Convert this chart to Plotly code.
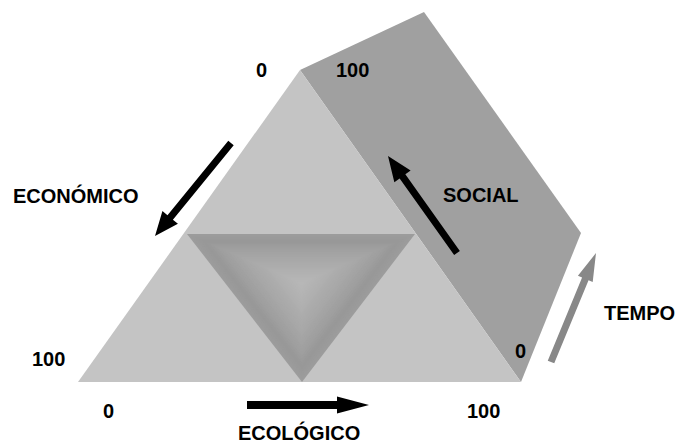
import math
import plotly.graph_objects as go

# ---- diagram geometry (pixel space of the reference, y downward) ----
outer_tri_x = [78, 300, 521]
outer_tri_y = [382, 70, 382]

side_face_x = [300, 424, 581, 521]
side_face_y = [70, 12, 233, 382]

inner_tri_x = [187, 415, 302]
inner_tri_y = [234, 234, 382]

# arrows: tail -> tip
arrow_names = ["economico", "social", "ecologico", "tempo"]
arrow_tail_x = [231, 457, 247, 551]
arrow_tail_y = [143, 253, 405, 362]
arrow_tip_x = [155, 388, 369, 596]
arrow_tip_y = [236, 156, 405, 253]
arrow_colors = ["#000000", "#000000", "#000000", "#888888"]

# labels
label_texts = ["0", "100", "ECONÓMICO", "SOCIAL", "TEMPO", "0", "100", "0", "100", "ECOLÓGICO"]
label_x = [261, 352, 76, 481, 639, 520, 48, 108, 483, 299]
label_y = [70, 70, 195, 195, 313, 351, 359, 411, 411, 432]

W, H = 676, 443
LIGHT = "#c4c4c4"
DARK = "#a0a0a0"

fig = go.Figure()


def poly(xs, ys, color):
    fig.add_trace(go.Scatter(
        x=list(xs) + [xs[0]], y=list(ys) + [ys[0]],
        mode="lines", fill="toself", fillcolor=color,
        line=dict(width=0, color=color), hoverinfo="skip", showlegend=False))


poly(side_face_x, side_face_y, DARK)
poly(outer_tri_x, outer_tri_y, LIGHT)

# inner triangle with a soft bevel gradient (nested triangles toward centroid)
cx = sum(inner_tri_x) / 3.0
cy = sum(inner_tri_y) / 3.0
levels = 30
c_edge = 0x9c
c_dark = 0x98
c_center = 0xb8
for i in range(levels):
    t = i / levels
    s = 1 - t
    xs = [cx + (x - cx) * s for x in inner_tri_x]
    ys = [cy + (y - cy) * s for y in inner_tri_y]
    if t < 0.15:
        v = c_edge + (c_dark - c_edge) * (t / 0.15)
    else:
        v = c_dark + (c_center - c_dark) * ((t - 0.15) / 0.85) ** 0.8
    v = int(round(v))
    poly(xs, ys, "#%02x%02x%02x" % (v, v, v))

# arrows
arrow_style = {
    "economico": (7, 24, 20),
    "social": (7, 25, 20),
    "ecologico": (8, 32, 17),
    "tempo": (7, 28, 16),
}
for name, x0, y0, x1, y1, col in zip(arrow_names, arrow_tail_x, arrow_tail_y,
                                     arrow_tip_x, arrow_tip_y, arrow_colors):
    w, L, Hh = arrow_style[name]
    dx, dy = x1 - x0, y1 - y0
    d = math.hypot(dx, dy)
    ux, uy = dx / d, dy / d
    nx, ny = -uy, ux
    bx, by = x1 - ux * L, y1 - uy * L
    pts = [
        (x0 + nx * w / 2, y0 + ny * w / 2),
        (bx + nx * w / 2, by + ny * w / 2),
        (bx + nx * Hh / 2, by + ny * Hh / 2),
        (x1, y1),
        (bx - nx * Hh / 2, by - ny * Hh / 2),
        (bx - nx * w / 2, by - ny * w / 2),
        (x0 - nx * w / 2, y0 - ny * w / 2),
    ]
    poly([p[0] for p in pts], [p[1] for p in pts], col)

for t, x, y in zip(label_texts, label_x, label_y):
    fig.add_annotation(x=x, y=y, xref="x", yref="y", text=t, showarrow=False,
                       xanchor="center", yanchor="middle",
                       font=dict(family="Liberation Sans, Arial, sans-serif",
                                 size=20, color="#000000", weight="bold"))

fig.update_layout(
    width=W, height=H,
    margin=dict(l=0, r=0, t=0, b=0),
    paper_bgcolor="white", plot_bgcolor="white",
    xaxis=dict(range=[0, W], visible=False, fixedrange=True),
    yaxis=dict(range=[H, 0], visible=False, fixedrange=True),
    showlegend=False,
)

fig.write_html(
    "out.html",
    config={"displayModeBar": False},
    post_script="document.body.style.margin='0';document.body.style.overflow='hidden';",
)
